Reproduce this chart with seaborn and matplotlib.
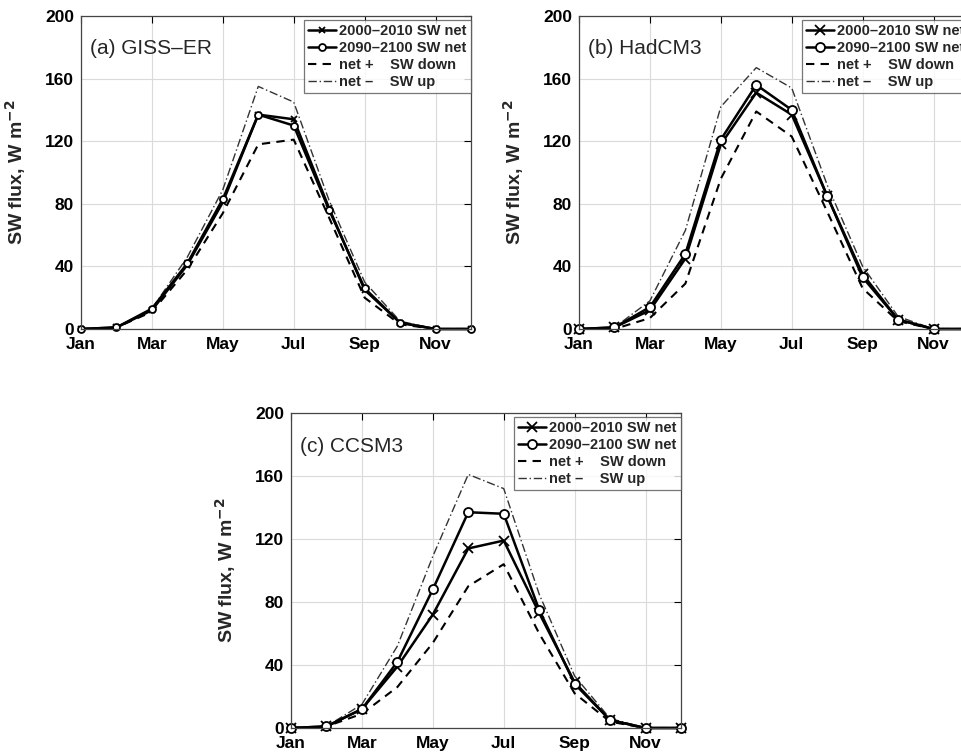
import matplotlib
matplotlib.use("Agg")
import matplotlib.pyplot as plt
import seaborn as sns
import pandas as pd

# Monthly mean shortwave fluxes (W m-2), Jan..Dec
months = list(range(1, 13))
tick_months = [1, 3, 5, 7, 9, 11]
tick_labels = ["Jan", "Mar", "May", "Jul", "Sep", "Nov"]
y_ticks = [0, 40, 80, 120, 160, 200]

giss_net_2000 = [0, 1, 12, 41, 81, 137, 134, 77, 25, 4, 0, 0]
giss_net_2090 = [0, 1, 13, 42, 83, 137, 130, 76, 26, 4, 0, 0]
giss_plus_down = [0, 1, 11, 38, 74, 118, 121, 71, 20, 3, 0, 0]
giss_minus_up = [0, 1, 13, 46, 89, 155, 145, 82, 30, 5, 0, 0]

had_net_2000 = [0, 1, 12, 45, 118, 151, 137, 85, 35, 6, 0, 0]
had_net_2090 = [0, 1, 14, 48, 121, 156, 140, 85, 33, 6, 0, 0]
had_plus_down = [0, 0, 7, 29, 96, 139, 123, 75, 26, 5, 0, 0]
had_minus_up = [0, 1, 18, 63, 142, 167, 154, 92, 40, 8, 0, 0]

ccsm_net_2000 = [0, 1, 12, 39, 72, 114, 119, 73, 29, 5, 0, 0]
ccsm_net_2090 = [0, 1, 12, 42, 88, 137, 136, 75, 28, 5, 0, 0]
ccsm_plus_down = [0, 1, 9, 26, 54, 90, 104, 60, 22, 4, 0, 0]
ccsm_minus_up = [0, 1, 15, 52, 109, 161, 152, 85, 33, 6, 0, 0]

panel_titles = ["(a) GISS\u2013ER", "(b) HadCM3", "(c) CCSM3"]
series_labels = ["2000\u20132010 SW net", "2090\u20132100 SW net",
                 "net +    SW down", "net \u2013    SW up"]

sns.set_theme(style="white")
plt.rcParams["font.family"] = ["Liberation Sans", "DejaVu Sans"]
plt.rcParams["mathtext.default"] = "bf"

fig = plt.figure(figsize=(9.62, 7.55), dpi=100)
W, H = 962.0, 755.0
aw = 390 / W
axes = [
    fig.add_axes([81 / W, 1 - 329 / H, aw, 313 / H]),
    fig.add_axes([579 / W, 1 - 329 / H, aw, 313 / H]),
    fig.add_axes([291 / W, 1 - 728 / H, aw, 315 / H]),
]

panels = [
    (giss_net_2000, giss_net_2090, giss_plus_down, giss_minus_up),
    (had_net_2000, had_net_2090, had_plus_down, had_minus_up),
    (ccsm_net_2000, ccsm_net_2090, ccsm_plus_down, ccsm_minus_up),
]
marker_sizes = [5, 6.5, 6.5]

for ax, title, data, ms in zip(axes, panel_titles, panels, marker_sizes):
    df = pd.DataFrame({"month": months,
                       "net2000": data[0], "net2090": data[1],
                       "down": data[2], "up": data[3]})
    sns.lineplot(data=df, x="month", y="down", ax=ax, color="black",
                 linestyle=(0, (4, 3)), lw=1.5, label=series_labels[2])
    sns.lineplot(data=df, x="month", y="up", ax=ax, color="#333333",
                 linestyle=(0, (6, 2, 1, 2)), lw=1.0, label=series_labels[3])
    sns.lineplot(data=df, x="month", y="net2000", ax=ax, color="black",
                 lw=1.8, marker="x", ms=ms, mew=1.3, mec="black",
                 label=series_labels[0], clip_on=False)
    sns.lineplot(data=df, x="month", y="net2090", ax=ax, color="black",
                 lw=1.8, marker="o", ms=ms, mew=1.3, mec="black", mfc="white",
                 label=series_labels[1], clip_on=False)

    ax.set_xlim(1, 12)
    ax.set_ylim(0, 200)
    ax.set_xticks(tick_months)
    ax.set_xticklabels(tick_labels)
    ax.set_yticks(y_ticks)
    ax.grid(True, color="#dadada", lw=0.8)
    ax.tick_params(direction="in", length=5, width=0.8, top=True, right=True,
                   labelsize=12.5, colors="black")
    ax.tick_params(axis="x", pad=6)
    ax.tick_params(axis="y", pad=5)
    for lab in ax.get_xticklabels() + ax.get_yticklabels():
        lab.set_fontweight("bold")
    for sp in ax.spines.values():
        sp.set_color("#444444")
        sp.set_linewidth(0.9)
    ax.set_xlabel("")
    ax.set_ylabel(r"SW flux, W m$^{-2}$", fontsize=14, fontweight="bold")
    ax.yaxis.set_label_coords(-0.136, 0.5)
    ax.text(0.022, 0.895, title, transform=ax.transAxes, fontsize=15,
            va="center", ha="left")

    handles, labels = ax.get_legend_handles_labels()
    order = [labels.index(s) for s in series_labels]
    leg = ax.legend([handles[i] for i in order], [labels[i] for i in order],
                    loc="upper left", bbox_to_anchor=(0.572, 0.988),
                    prop={"weight": "bold", "size": 10.5}, frameon=True,
                    fancybox=False, edgecolor="#555555", handlelength=1.9,
                    handletextpad=0.2, labelspacing=0.2, borderpad=0.3,
                    borderaxespad=0)
    leg.get_frame().set_linewidth(0.9)

fig.savefig("out.png", dpi=100)
